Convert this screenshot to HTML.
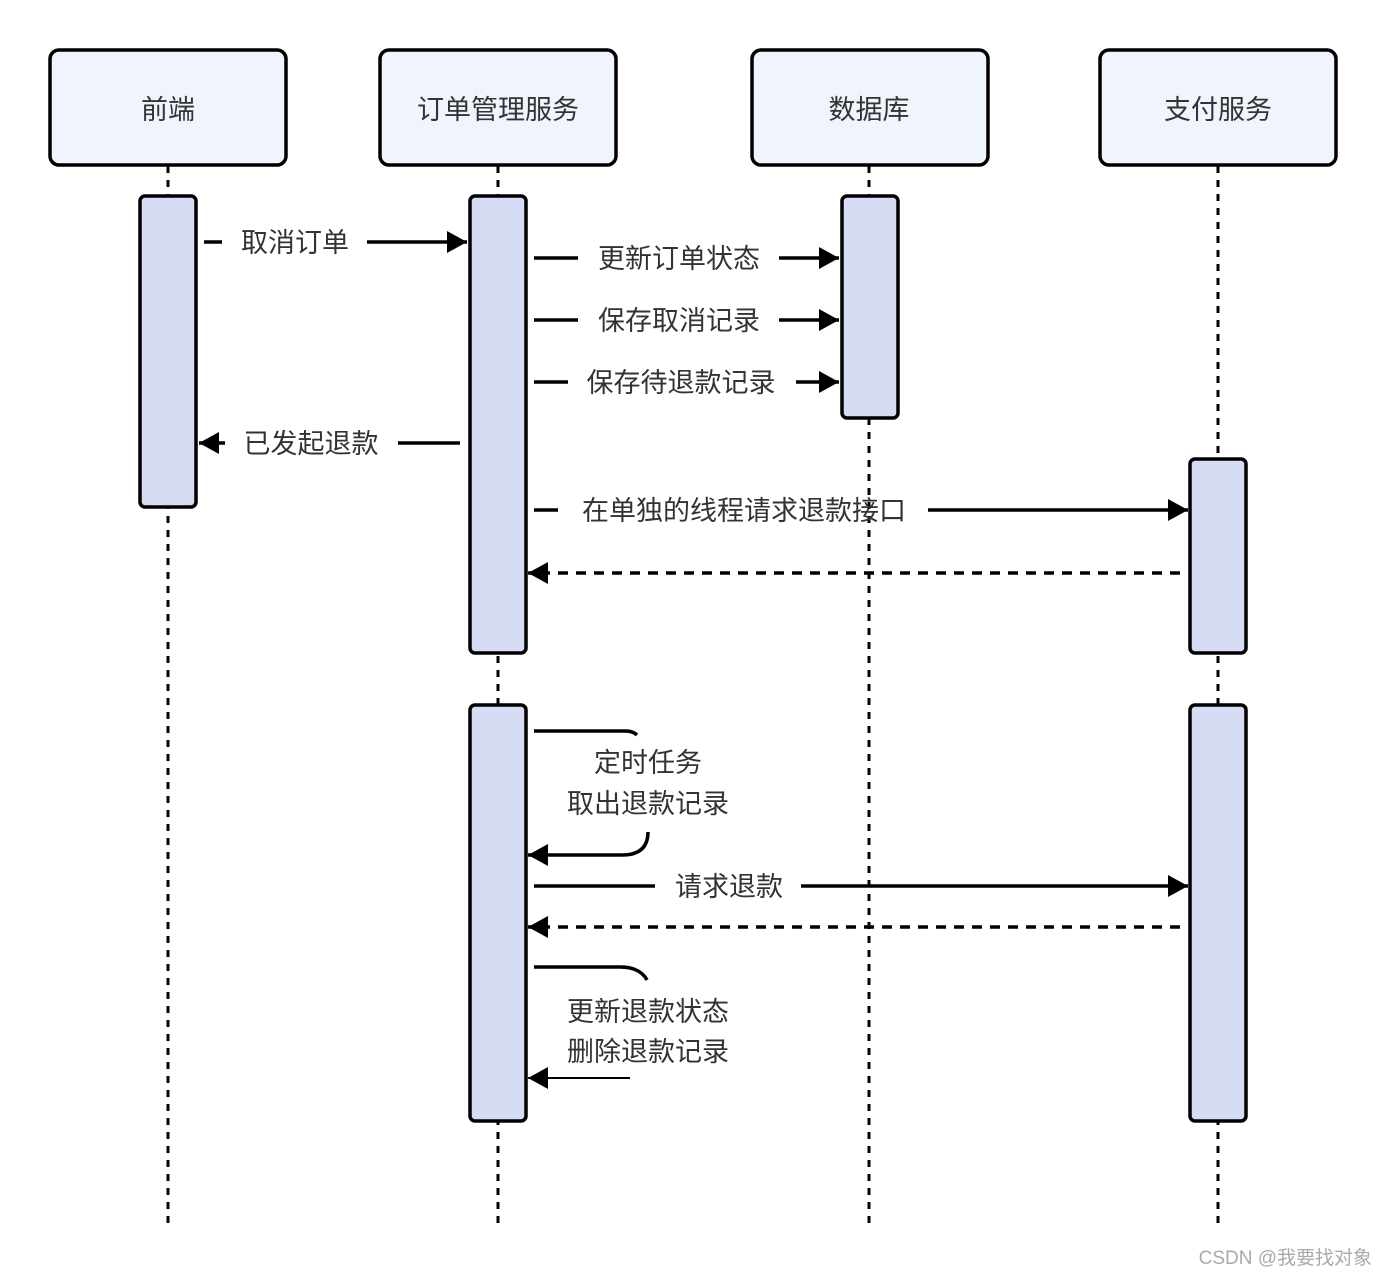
<!DOCTYPE html>
<html><head><meta charset="utf-8"><style>
html,body{margin:0;padding:0;background:#fff;}
svg{display:block;}
text{font-family:"Liberation Sans","Noto Sans CJK SC",sans-serif;fill:#333;font-size:27px;}
</style></head><body>
<svg width="1388" height="1276" viewBox="0 0 1388 1276" xmlns="http://www.w3.org/2000/svg">
<defs>
<marker id="a" markerWidth="22" markerHeight="22" refX="20" refY="11" orient="auto" markerUnits="userSpaceOnUse">
<path d="M0,0 L20,11 L0,22 Z" fill="#000"/>
</marker>
</defs>
<!-- lifelines -->
<g stroke="#000" stroke-width="3" stroke-dasharray="7,7" fill="none">
<line x1="168" y1="166" x2="168" y2="1226"/>
<line x1="498" y1="166" x2="498" y2="1226"/>
<line x1="869" y1="166" x2="869" y2="1226"/>
<line x1="1218" y1="166" x2="1218" y2="1226"/>
</g>
<!-- headers -->
<g fill="#eff4fd" stroke="#000" stroke-width="3.5">
<rect x="50" y="50" width="236" height="115" rx="9"/>
<rect x="380" y="50" width="236" height="115" rx="9"/>
<rect x="752" y="50" width="236" height="115" rx="9"/>
<rect x="1100" y="50" width="236" height="115" rx="9"/>
</g>
<g text-anchor="middle">
<text x="168" y="119">前端</text>
<text x="498" y="119">订单管理服务</text>
<text x="869" y="119">数据库</text>
<text x="1218" y="119">支付服务</text>
</g>
<!-- activations -->
<g fill="#d6dcf4" stroke="#000" stroke-width="3.5">
<rect x="140" y="196" width="56" height="311" rx="5"/>
<rect x="470" y="196" width="56" height="457" rx="5"/>
<rect x="470" y="705" width="56" height="416" rx="5"/>
<rect x="842" y="196" width="56" height="222" rx="5"/>
<rect x="1190" y="459" width="56" height="194" rx="5"/>
<rect x="1190" y="705" width="56" height="416" rx="5"/>
</g>
<!-- messages -->
<g stroke="#000" stroke-width="3.5" fill="none">
<line x1="204" y1="242" x2="222" y2="242"/>
<line x1="367" y1="242" x2="467" y2="242" marker-end="url(#a)"/>
<line x1="534" y1="258" x2="578" y2="258"/>
<line x1="779" y1="258" x2="839" y2="258" marker-end="url(#a)"/>
<line x1="534" y1="320" x2="578" y2="320"/>
<line x1="779" y1="320" x2="839" y2="320" marker-end="url(#a)"/>
<line x1="534" y1="382" x2="568" y2="382"/>
<line x1="796" y1="382" x2="839" y2="382" marker-end="url(#a)"/>
<line x1="225" y1="443" x2="199" y2="443" marker-end="url(#a)"/>
<line x1="398" y1="443" x2="460" y2="443"/>
<line x1="534" y1="510" x2="558" y2="510"/>
<line x1="928" y1="510" x2="1188" y2="510" marker-end="url(#a)"/>
<line x1="1180" y1="573" x2="528" y2="573" stroke-dasharray="10,8" marker-end="url(#a)"/>
<path d="M534,731 L625,731 Q633,731 637,735"/>
<path d="M648,832 Q648,855 622,855 L528,855" marker-end="url(#a)"/>
<line x1="534" y1="886" x2="655" y2="886"/>
<line x1="801" y1="886" x2="1188" y2="886" marker-end="url(#a)"/>
<line x1="1180" y1="927" x2="528" y2="927" stroke-dasharray="10,8" marker-end="url(#a)"/>
<path d="M534,967 L620,967 Q640,967 647,980"/>
<line x1="630" y1="1078" x2="528" y2="1078" stroke-width="2" marker-end="url(#a)"/>
</g>
<g text-anchor="middle">
<text x="295" y="252">取消订单</text>
<text x="679" y="268">更新订单状态</text>
<text x="679" y="330">保存取消记录</text>
<text x="681" y="392">保存待退款记录</text>
<text x="311" y="453">已发起退款</text>
<text x="744" y="520">在单独的线程请求退款接口</text>
<text x="648" y="772">定时任务</text>
<text x="648" y="813">取出退款记录</text>
<text x="729" y="896">请求退款</text>
<text x="648" y="1021">更新退款状态</text>
<text x="648" y="1061">删除退款记录</text>
</g>
<text x="1372" y="1264" text-anchor="end" style="font-size:19px;fill:#aaa;">CSDN @我要找对象</text>
</svg>
</body></html>
